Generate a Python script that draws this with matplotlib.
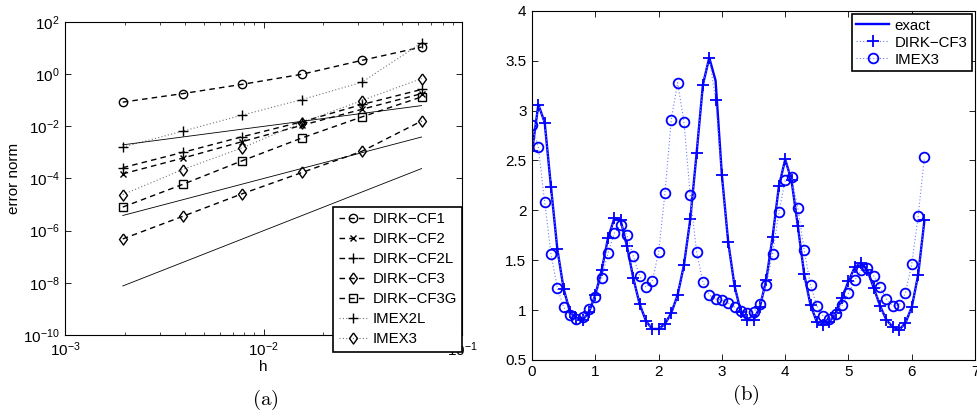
import numpy as np
import matplotlib
matplotlib.use("Agg")
import matplotlib.pyplot as plt

plt.rcParams['font.family'] = ['Liberation Sans', 'DejaVu Sans']
plt.rcParams['mathtext.fontset'] = 'custom'
plt.rcParams['mathtext.rm'] = 'Liberation Sans'
plt.rcParams['font.size'] = 11

# ---- panel (a): error norm vs step size ----
h = [0.001953125, 0.00390625, 0.0078125, 0.015625, 0.03125, 0.0625]
cf1 = [0.085, 0.18, 0.41, 1.0, 3.4, 11.0]
cf2 = [1.5e-4, 6.0e-4, 2.6e-3, 1.1e-2, 4.5e-2, 0.18]
cf2l = [2.6e-4, 1.0e-3, 4.0e-3, 1.5e-2, 6.9e-2, 0.26]
cf3 = [4.8e-7, 3.5e-6, 2.6e-5, 1.7e-4, 1.1e-3, 1.6e-2]
cf3g = [8.0e-6, 5.9e-5, 4.8e-4, 3.6e-3, 2.3e-2, 0.135]
imex2l = [1.6e-3, 6.5e-3, 2.7e-2, 0.107, 0.49, 16.0]
imex3 = [2.4e-5, 2.2e-4, 1.5e-3, 1.4e-2, 0.098, 0.68]

# reference slopes (order 1, 2, 3), end points only
ref_h = [0.001953125, 0.0625]
ref1 = [1.95e-3, 6.25e-2]
ref2 = [3.8e-6, 3.9e-3]
ref3 = [7.5e-9, 2.4e-4]

# ---- panel (b): solution profiles ----
t = [round(0.1 * k, 1) for k in range(63)]
dirk_cf3 = [2.59, 3.06, 2.88, 2.23, 1.61, 1.21, 0.98, 0.92, 0.90, 0.98,
            1.15, 1.40, 1.72, 1.92, 1.90, 1.64, 1.32, 1.06, 0.89, 0.81,
            0.81, 0.86, 0.97, 1.15, 1.45, 1.91, 2.57, 3.26, 3.53, 3.11,
            2.35, 1.68, 1.24, 0.98, 0.90, 0.90, 1.03, 1.30, 1.73, 2.24,
            2.51, 2.30, 1.84, 1.36, 1.05, 0.88, 0.85, 0.88, 0.97, 1.12,
            1.29, 1.43, 1.47, 1.40, 1.22, 1.04, 0.90, 0.83, 0.80, 0.87,
            1.03, 1.35, 1.90]
exact = [2.59, 3.06, 2.88, 2.23, 1.61, 1.21, 0.98, 0.92, 0.90, 0.98,
         1.15, 1.40, 1.72, 1.92, 1.90, 1.64, 1.32, 1.06, 0.89, 0.81,
         0.81, 0.86, 0.97, 1.15, 1.45, 1.91, 2.57, 3.26, 3.53, 3.30,
         2.35, 1.68, 1.24, 0.98, 0.90, 0.90, 1.03, 1.30, 1.73, 2.24,
         2.51, 2.30, 1.84, 1.36, 1.05, 0.88, 0.85, 0.88, 0.97, 1.12,
         1.29, 1.43, 1.47, 1.40, 1.22, 1.04, 0.90, 0.83, 0.80, 0.87,
         1.03, 1.35, 1.90]
imex3_sol = [2.86, 2.63, 2.08, 1.56, 1.22, 1.03, 0.95, 0.91, 0.93, 1.01,
             1.13, 1.32, 1.57, 1.77, 1.85, 1.75, 1.54, 1.34, 1.23, 1.29,
             1.58, 2.17, 2.91, 3.28, 2.89, 2.15, 1.58, 1.28, 1.15, 1.11,
             1.10, 1.07, 1.03, 0.99, 0.97, 0.98, 1.06, 1.25, 1.56, 1.98,
             2.30, 2.33, 2.02, 1.60, 1.25, 1.04, 0.94, 0.91, 0.96, 1.05,
             1.17, 1.30, 1.40, 1.42, 1.34, 1.23, 1.11, 1.04, 1.05, 1.17,
             1.46, 1.94, 2.53]

# matlab-style diamond (wider than matplotlib's thin 'd')
diamond = [(0, 1), (0.72, 0), (0, -1), (-0.72, 0), (0, 1)]


def matlab_ticks(ax):
    ax.tick_params(which='both', direction='in', top=True, right=True,
                   labelsize=11, pad=4)
    ax.tick_params(which='major', length=4, width=0.6)
    ax.tick_params(which='minor', length=2, width=0.5)
    for s in ax.spines.values():
        s.set_linewidth(0.8)


fig = plt.figure(figsize=(9.78, 4.17), dpi=100)

# left panel
ax1 = fig.add_axes([0.0665, 0.197, 0.406, 0.750])
mk = dict(mfc='none', mec='k', color='k', lw=1.0, mew=1.0)
ax1.loglog(h, cf1, '--o', ms=6, label='DIRK\u2212CF1', dashes=(4, 3), **mk)
ax1.loglog(h, cf2, '--x', ms=5, label='DIRK\u2212CF2', dashes=(4, 3), **mk)
ax1.loglog(h, cf2l, '--+', ms=7, label='DIRK\u2212CF2L', dashes=(4, 3), **mk)
ax1.loglog(h, cf3, '--', marker=diamond, ms=8, label='DIRK\u2212CF3',
           dashes=(4, 3), **mk)
ax1.loglog(h, cf3g, '--s', ms=6, label='DIRK\u2212CF3G', dashes=(4, 3), **mk)
ax1.loglog(h, imex2l, '+', ls=(0, (1, 2)), color='0.45', ms=7, mec='k',
           mew=1.0, lw=0.8, label='IMEX2L')
ax1.loglog(h, imex3, marker=diamond, ls=(0, (1, 2)), color='0.45', ms=8,
           mec='k', mfc='none', mew=1.0, lw=0.8, label='IMEX3')
for ry in (ref1, ref2, ref3):
    ax1.loglog(ref_h, ry, '-', color='k', lw=0.6)

ax1.set_xlim(1e-3, 1e-1)
ax1.set_ylim(1e-10, 1e2)
ax1.set_yticks([1e-10, 1e-8, 1e-6, 1e-4, 1e-2, 1e0, 1e2])
ax1.yaxis.set_minor_locator(matplotlib.ticker.NullLocator())
ax1.set_xlabel('h', labelpad=1)
ax1.set_ylabel('error norm', labelpad=1)
matlab_ticks(ax1)
leg1 = ax1.legend(loc='lower right', bbox_to_anchor=(1.0, -0.054),
                  borderaxespad=0, fancybox=False, framealpha=1,
                  edgecolor='k', numpoints=1, handlelength=1.9,
                  handletextpad=0.35, borderpad=0.35, labelspacing=0.4,
                  fontsize=10.8)
leg1.get_frame().set_linewidth(1.2)
leg1.set_zorder(10)

# right panel
ax2 = fig.add_axes([0.544, 0.137, 0.453, 0.837])
ax2.plot(t, exact, '-', color='b', lw=1.7, label='exact')
ax2.plot(t, dirk_cf3, '+', ls=(0, (1, 2)), color='#6f7dff', mec='b', ms=8,
         mew=1.3, lw=0.8, label='DIRK\u2212CF3')
ax2.plot(t, imex3_sol, 'o', ls=(0, (1, 2)), color='#6f7dff', mec='b',
         mfc='none', ms=7, mew=1.3, lw=0.8, label='IMEX3')
ax2.set_xlim(0, 7)
ax2.set_ylim(0.5, 4)
ax2.set_xticks(range(0, 8))
ax2.set_yticks([0.5, 1, 1.5, 2, 2.5, 3, 3.5, 4])
ax2.set_yticklabels(['0.5', '1', '1.5', '2', '2.5', '3', '3.5', '4'])
matlab_ticks(ax2)
leg2 = ax2.legend(loc='upper right', bbox_to_anchor=(0.9925, 0.9905),
                  borderaxespad=0, fancybox=False, framealpha=1,
                  edgecolor='k', numpoints=1, handlelength=2.2,
                  handletextpad=0.35, borderpad=0.3, labelspacing=0.2,
                  fontsize=10.8)
leg2.get_frame().set_linewidth(1.2)

# captions
fig.text(265 / 978, 1 - 400 / 417, r'$\mathrm{(a)}$', ha='center',
         va='center', fontsize=15, math_fontfamily='cm')
fig.text(746 / 978, 1 - 395 / 417, r'$\mathrm{(b)}$', ha='center',
         va='center', fontsize=15, math_fontfamily='cm')

fig.savefig('out.png', dpi=100)
